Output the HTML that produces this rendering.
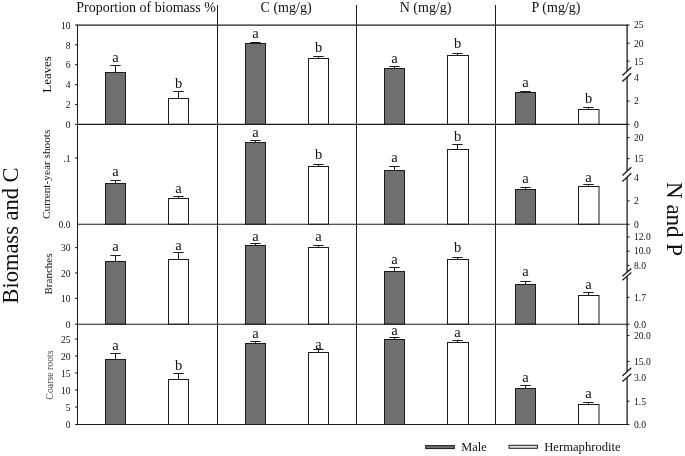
<!DOCTYPE html>
<html lang="en"><head><meta charset="utf-8"><title>Biomass and nutrient concentrations</title>
<style>html,body{margin:0;padding:0;background:#fff}svg{display:block;will-change:transform;filter:grayscale(1)}</style></head>
<body>
<svg width="685" height="456" viewBox="0 0 685 456" font-family="'Liberation Serif', serif" fill="#111">
<rect width="685" height="456" fill="#fff"/>
<line x1="115.50" y1="72.50" x2="115.50" y2="65.50" stroke="#1c1c1c" stroke-width="1"/>
<line x1="110.30" y1="65.50" x2="120.70" y2="65.50" stroke="#1c1c1c" stroke-width="1"/>
<rect x="105.50" y="72.50" width="20.00" height="51.90" fill="#6f6f6f" stroke="#1c1c1c" stroke-width="1"/>
<text x="115.50" y="61.60" font-size="14.5" text-anchor="middle">a</text>
<line x1="178.50" y1="98.50" x2="178.50" y2="91.50" stroke="#1c1c1c" stroke-width="1"/>
<line x1="173.30" y1="91.50" x2="183.70" y2="91.50" stroke="#1c1c1c" stroke-width="1"/>
<rect x="168.50" y="98.50" width="20.00" height="25.90" fill="#fff" stroke="#1c1c1c" stroke-width="1"/>
<text x="178.50" y="88.00" font-size="14.5" text-anchor="middle">b</text>
<line x1="255.50" y1="43.50" x2="255.50" y2="42.50" stroke="#1c1c1c" stroke-width="1"/>
<line x1="250.30" y1="42.50" x2="260.70" y2="42.50" stroke="#1c1c1c" stroke-width="1"/>
<rect x="245.50" y="43.50" width="20.00" height="80.90" fill="#6f6f6f" stroke="#1c1c1c" stroke-width="1"/>
<text x="255.50" y="37.80" font-size="14.5" text-anchor="middle">a</text>
<line x1="318.50" y1="58.50" x2="318.50" y2="56.50" stroke="#1c1c1c" stroke-width="1"/>
<line x1="313.30" y1="56.50" x2="323.70" y2="56.50" stroke="#1c1c1c" stroke-width="1"/>
<rect x="308.50" y="58.50" width="20.00" height="65.90" fill="#fff" stroke="#1c1c1c" stroke-width="1"/>
<text x="318.50" y="51.60" font-size="14.5" text-anchor="middle">b</text>
<line x1="394.50" y1="68.50" x2="394.50" y2="66.50" stroke="#1c1c1c" stroke-width="1"/>
<line x1="389.30" y1="66.50" x2="399.70" y2="66.50" stroke="#1c1c1c" stroke-width="1"/>
<rect x="384.50" y="68.50" width="20.00" height="55.90" fill="#6f6f6f" stroke="#1c1c1c" stroke-width="1"/>
<text x="394.50" y="63.00" font-size="14.5" text-anchor="middle">a</text>
<line x1="457.50" y1="55.50" x2="457.50" y2="53.50" stroke="#1c1c1c" stroke-width="1"/>
<line x1="452.30" y1="53.50" x2="462.70" y2="53.50" stroke="#1c1c1c" stroke-width="1"/>
<rect x="447.50" y="55.50" width="21.00" height="68.90" fill="#fff" stroke="#1c1c1c" stroke-width="1"/>
<text x="457.50" y="48.00" font-size="14.5" text-anchor="middle">b</text>
<line x1="525.50" y1="92.50" x2="525.50" y2="91.50" stroke="#1c1c1c" stroke-width="1"/>
<line x1="520.30" y1="91.50" x2="530.70" y2="91.50" stroke="#1c1c1c" stroke-width="1"/>
<rect x="515.50" y="92.50" width="20.00" height="31.90" fill="#6f6f6f" stroke="#1c1c1c" stroke-width="1"/>
<text x="525.50" y="86.70" font-size="14.5" text-anchor="middle">a</text>
<line x1="588.50" y1="109.50" x2="588.50" y2="107.50" stroke="#1c1c1c" stroke-width="1"/>
<line x1="583.30" y1="107.50" x2="593.70" y2="107.50" stroke="#1c1c1c" stroke-width="1"/>
<rect x="578.50" y="109.50" width="20.50" height="14.90" fill="#fff" stroke="#1c1c1c" stroke-width="1"/>
<text x="588.50" y="103.00" font-size="14.5" text-anchor="middle">b</text>
<line x1="115.50" y1="183.50" x2="115.50" y2="180.50" stroke="#1c1c1c" stroke-width="1"/>
<line x1="110.30" y1="180.50" x2="120.70" y2="180.50" stroke="#1c1c1c" stroke-width="1"/>
<rect x="105.50" y="183.50" width="20.00" height="40.80" fill="#6f6f6f" stroke="#1c1c1c" stroke-width="1"/>
<text x="115.50" y="176.25" font-size="14.5" text-anchor="middle">a</text>
<line x1="178.50" y1="198.50" x2="178.50" y2="196.50" stroke="#1c1c1c" stroke-width="1"/>
<line x1="173.30" y1="196.50" x2="183.70" y2="196.50" stroke="#1c1c1c" stroke-width="1"/>
<rect x="168.50" y="198.50" width="20.00" height="25.80" fill="#fff" stroke="#1c1c1c" stroke-width="1"/>
<text x="178.50" y="192.75" font-size="14.5" text-anchor="middle">a</text>
<line x1="255.50" y1="142.50" x2="255.50" y2="140.50" stroke="#1c1c1c" stroke-width="1"/>
<line x1="250.30" y1="140.50" x2="260.70" y2="140.50" stroke="#1c1c1c" stroke-width="1"/>
<rect x="245.50" y="142.50" width="20.00" height="81.80" fill="#6f6f6f" stroke="#1c1c1c" stroke-width="1"/>
<text x="255.50" y="137.00" font-size="14.5" text-anchor="middle">a</text>
<line x1="318.50" y1="166.50" x2="318.50" y2="164.50" stroke="#1c1c1c" stroke-width="1"/>
<line x1="313.30" y1="164.50" x2="323.70" y2="164.50" stroke="#1c1c1c" stroke-width="1"/>
<rect x="308.50" y="166.50" width="20.00" height="57.80" fill="#fff" stroke="#1c1c1c" stroke-width="1"/>
<text x="318.50" y="159.40" font-size="14.5" text-anchor="middle">b</text>
<line x1="394.50" y1="170.50" x2="394.50" y2="166.50" stroke="#1c1c1c" stroke-width="1"/>
<line x1="389.30" y1="166.50" x2="399.70" y2="166.50" stroke="#1c1c1c" stroke-width="1"/>
<rect x="384.50" y="170.50" width="20.00" height="53.80" fill="#6f6f6f" stroke="#1c1c1c" stroke-width="1"/>
<text x="394.50" y="161.75" font-size="14.5" text-anchor="middle">a</text>
<line x1="457.50" y1="149.50" x2="457.50" y2="144.50" stroke="#1c1c1c" stroke-width="1"/>
<line x1="452.30" y1="144.50" x2="462.70" y2="144.50" stroke="#1c1c1c" stroke-width="1"/>
<rect x="447.50" y="149.50" width="21.00" height="74.80" fill="#fff" stroke="#1c1c1c" stroke-width="1"/>
<text x="457.50" y="140.50" font-size="14.5" text-anchor="middle">b</text>
<line x1="525.50" y1="189.50" x2="525.50" y2="187.50" stroke="#1c1c1c" stroke-width="1"/>
<line x1="520.30" y1="187.50" x2="530.70" y2="187.50" stroke="#1c1c1c" stroke-width="1"/>
<rect x="515.50" y="189.50" width="20.00" height="34.80" fill="#6f6f6f" stroke="#1c1c1c" stroke-width="1"/>
<text x="525.50" y="183.25" font-size="14.5" text-anchor="middle">a</text>
<line x1="588.50" y1="186.50" x2="588.50" y2="184.50" stroke="#1c1c1c" stroke-width="1"/>
<line x1="583.30" y1="184.50" x2="593.70" y2="184.50" stroke="#1c1c1c" stroke-width="1"/>
<rect x="578.50" y="186.50" width="20.50" height="37.80" fill="#fff" stroke="#1c1c1c" stroke-width="1"/>
<text x="588.50" y="182.00" font-size="14.5" text-anchor="middle">a</text>
<line x1="115.50" y1="261.50" x2="115.50" y2="255.50" stroke="#1c1c1c" stroke-width="1"/>
<line x1="110.30" y1="255.50" x2="120.70" y2="255.50" stroke="#1c1c1c" stroke-width="1"/>
<rect x="105.50" y="261.50" width="20.00" height="62.70" fill="#6f6f6f" stroke="#1c1c1c" stroke-width="1"/>
<text x="115.50" y="251.25" font-size="14.5" text-anchor="middle">a</text>
<line x1="178.50" y1="259.50" x2="178.50" y2="252.50" stroke="#1c1c1c" stroke-width="1"/>
<line x1="173.30" y1="252.50" x2="183.70" y2="252.50" stroke="#1c1c1c" stroke-width="1"/>
<rect x="168.50" y="259.50" width="20.00" height="64.70" fill="#fff" stroke="#1c1c1c" stroke-width="1"/>
<text x="178.50" y="249.50" font-size="14.5" text-anchor="middle">a</text>
<line x1="255.50" y1="245.50" x2="255.50" y2="243.50" stroke="#1c1c1c" stroke-width="1"/>
<line x1="250.30" y1="243.50" x2="260.70" y2="243.50" stroke="#1c1c1c" stroke-width="1"/>
<rect x="245.50" y="245.50" width="20.00" height="78.70" fill="#6f6f6f" stroke="#1c1c1c" stroke-width="1"/>
<text x="255.50" y="240.50" font-size="14.5" text-anchor="middle">a</text>
<line x1="318.50" y1="247.50" x2="318.50" y2="245.50" stroke="#1c1c1c" stroke-width="1"/>
<line x1="313.30" y1="245.50" x2="323.70" y2="245.50" stroke="#1c1c1c" stroke-width="1"/>
<rect x="308.50" y="247.50" width="20.00" height="76.70" fill="#fff" stroke="#1c1c1c" stroke-width="1"/>
<text x="318.50" y="240.50" font-size="14.5" text-anchor="middle">a</text>
<line x1="394.50" y1="271.50" x2="394.50" y2="267.50" stroke="#1c1c1c" stroke-width="1"/>
<line x1="389.30" y1="267.50" x2="399.70" y2="267.50" stroke="#1c1c1c" stroke-width="1"/>
<rect x="384.50" y="271.50" width="20.00" height="52.70" fill="#6f6f6f" stroke="#1c1c1c" stroke-width="1"/>
<text x="394.50" y="263.75" font-size="14.5" text-anchor="middle">a</text>
<line x1="457.50" y1="259.50" x2="457.50" y2="257.50" stroke="#1c1c1c" stroke-width="1"/>
<line x1="452.30" y1="257.50" x2="462.70" y2="257.50" stroke="#1c1c1c" stroke-width="1"/>
<rect x="447.50" y="259.50" width="21.00" height="64.70" fill="#fff" stroke="#1c1c1c" stroke-width="1"/>
<text x="457.50" y="252.00" font-size="14.5" text-anchor="middle">b</text>
<line x1="525.50" y1="284.50" x2="525.50" y2="281.50" stroke="#1c1c1c" stroke-width="1"/>
<line x1="520.30" y1="281.50" x2="530.70" y2="281.50" stroke="#1c1c1c" stroke-width="1"/>
<rect x="515.50" y="284.50" width="20.00" height="39.70" fill="#6f6f6f" stroke="#1c1c1c" stroke-width="1"/>
<text x="525.50" y="276.00" font-size="14.5" text-anchor="middle">a</text>
<line x1="588.50" y1="295.50" x2="588.50" y2="292.50" stroke="#1c1c1c" stroke-width="1"/>
<line x1="583.30" y1="292.50" x2="593.70" y2="292.50" stroke="#1c1c1c" stroke-width="1"/>
<rect x="578.50" y="295.50" width="20.50" height="28.70" fill="#fff" stroke="#1c1c1c" stroke-width="1"/>
<text x="588.50" y="289.00" font-size="14.5" text-anchor="middle">a</text>
<line x1="115.50" y1="359.50" x2="115.50" y2="353.50" stroke="#1c1c1c" stroke-width="1"/>
<line x1="110.30" y1="353.50" x2="120.70" y2="353.50" stroke="#1c1c1c" stroke-width="1"/>
<rect x="105.50" y="359.50" width="20.00" height="65.00" fill="#6f6f6f" stroke="#1c1c1c" stroke-width="1"/>
<text x="115.50" y="349.60" font-size="14.5" text-anchor="middle">a</text>
<line x1="178.50" y1="379.50" x2="178.50" y2="373.50" stroke="#1c1c1c" stroke-width="1"/>
<line x1="173.30" y1="373.50" x2="183.70" y2="373.50" stroke="#1c1c1c" stroke-width="1"/>
<rect x="168.50" y="379.50" width="20.00" height="45.00" fill="#fff" stroke="#1c1c1c" stroke-width="1"/>
<text x="178.50" y="369.50" font-size="14.5" text-anchor="middle">b</text>
<line x1="255.50" y1="343.50" x2="255.50" y2="341.50" stroke="#1c1c1c" stroke-width="1"/>
<line x1="250.30" y1="341.50" x2="260.70" y2="341.50" stroke="#1c1c1c" stroke-width="1"/>
<rect x="245.50" y="343.50" width="20.00" height="81.00" fill="#6f6f6f" stroke="#1c1c1c" stroke-width="1"/>
<text x="255.50" y="338.00" font-size="14.5" text-anchor="middle">a</text>
<line x1="318.50" y1="352.50" x2="318.50" y2="349.50" stroke="#1c1c1c" stroke-width="1"/>
<line x1="313.30" y1="349.50" x2="323.70" y2="349.50" stroke="#1c1c1c" stroke-width="1"/>
<rect x="308.50" y="352.50" width="20.00" height="72.00" fill="#fff" stroke="#1c1c1c" stroke-width="1"/>
<text x="318.50" y="349.25" font-size="14.5" text-anchor="middle">a</text>
<line x1="394.50" y1="339.50" x2="394.50" y2="337.50" stroke="#1c1c1c" stroke-width="1"/>
<line x1="389.30" y1="337.50" x2="399.70" y2="337.50" stroke="#1c1c1c" stroke-width="1"/>
<rect x="384.50" y="339.50" width="20.00" height="85.00" fill="#6f6f6f" stroke="#1c1c1c" stroke-width="1"/>
<text x="394.50" y="335.00" font-size="14.5" text-anchor="middle">a</text>
<line x1="457.50" y1="342.50" x2="457.50" y2="340.50" stroke="#1c1c1c" stroke-width="1"/>
<line x1="452.30" y1="340.50" x2="462.70" y2="340.50" stroke="#1c1c1c" stroke-width="1"/>
<rect x="447.50" y="342.50" width="21.00" height="82.00" fill="#fff" stroke="#1c1c1c" stroke-width="1"/>
<text x="457.50" y="337.00" font-size="14.5" text-anchor="middle">a</text>
<line x1="525.50" y1="388.50" x2="525.50" y2="385.50" stroke="#1c1c1c" stroke-width="1"/>
<line x1="520.30" y1="385.50" x2="530.70" y2="385.50" stroke="#1c1c1c" stroke-width="1"/>
<rect x="515.50" y="388.50" width="20.00" height="36.00" fill="#6f6f6f" stroke="#1c1c1c" stroke-width="1"/>
<text x="525.50" y="381.50" font-size="14.5" text-anchor="middle">a</text>
<line x1="588.50" y1="404.50" x2="588.50" y2="402.50" stroke="#1c1c1c" stroke-width="1"/>
<line x1="583.30" y1="402.50" x2="593.70" y2="402.50" stroke="#1c1c1c" stroke-width="1"/>
<rect x="578.50" y="404.50" width="20.50" height="20.00" fill="#fff" stroke="#1c1c1c" stroke-width="1"/>
<text x="588.50" y="397.75" font-size="14.5" text-anchor="middle">a</text>
<line x1="77.0" y1="25.05" x2="627.7" y2="25.05" stroke="#1c1c1c" stroke-width="1.3"/>
<line x1="77.0" y1="124.4" x2="627.7" y2="124.4" stroke="#1c1c1c" stroke-width="1.1"/>
<line x1="77.0" y1="224.3" x2="627.7" y2="224.3" stroke="#1c1c1c" stroke-width="1.1"/>
<line x1="77.0" y1="324.2" x2="627.7" y2="324.2" stroke="#1c1c1c" stroke-width="1.1"/>
<line x1="77.0" y1="424.5" x2="627.7" y2="424.5" stroke="#1c1c1c" stroke-width="1.1"/>
<line x1="77.5" y1="25.05" x2="77.5" y2="424.5" stroke="#1c1c1c" stroke-width="1"/>
<line x1="217.5" y1="5" x2="217.5" y2="425.0" stroke="#1c1c1c" stroke-width="1"/>
<line x1="356.5" y1="5" x2="356.5" y2="425.0" stroke="#1c1c1c" stroke-width="1"/>
<line x1="495.5" y1="5" x2="495.5" y2="425.0" stroke="#1c1c1c" stroke-width="1"/>
<line x1="627.1" y1="25.05" x2="627.1" y2="71.07" stroke="#1c1c1c" stroke-width="1.3"/>
<line x1="627.1" y1="77.12" x2="627.1" y2="171.07" stroke="#1c1c1c" stroke-width="1.3"/>
<line x1="627.1" y1="177.12" x2="627.1" y2="272.13" stroke="#1c1c1c" stroke-width="1.3"/>
<line x1="627.1" y1="276.23" x2="627.1" y2="371.62" stroke="#1c1c1c" stroke-width="1.3"/>
<line x1="627.1" y1="377.43" x2="627.1" y2="424.50" stroke="#1c1c1c" stroke-width="1.3"/>
<line x1="622.4" y1="75.40" x2="631.3" y2="67.20" stroke="#1c1c1c" stroke-width="1.3"/>
<line x1="622.4" y1="81.50" x2="631.3" y2="73.20" stroke="#1c1c1c" stroke-width="1.3"/>
<line x1="622.4" y1="175.40" x2="631.3" y2="167.20" stroke="#1c1c1c" stroke-width="1.3"/>
<line x1="622.4" y1="181.50" x2="631.3" y2="173.20" stroke="#1c1c1c" stroke-width="1.3"/>
<line x1="622.4" y1="276.30" x2="631.3" y2="268.40" stroke="#1c1c1c" stroke-width="1.3"/>
<line x1="622.4" y1="280.30" x2="631.3" y2="272.60" stroke="#1c1c1c" stroke-width="1.3"/>
<line x1="622.4" y1="375.90" x2="631.3" y2="367.80" stroke="#1c1c1c" stroke-width="1.3"/>
<line x1="622.4" y1="381.60" x2="631.3" y2="373.70" stroke="#1c1c1c" stroke-width="1.3"/>
<line x1="75.1" y1="124.4" x2="77.5" y2="124.4" stroke="#1c1c1c" stroke-width="1.1"/>
<text x="70.5" y="128.10" font-size="9.6" text-anchor="end">0</text>
<line x1="75.1" y1="104.5" x2="77.5" y2="104.5" stroke="#1c1c1c" stroke-width="1.1"/>
<text x="70.5" y="108.20" font-size="9.6" text-anchor="end">2</text>
<line x1="75.1" y1="84.6" x2="77.5" y2="84.6" stroke="#1c1c1c" stroke-width="1.1"/>
<text x="70.5" y="88.30" font-size="9.6" text-anchor="end">4</text>
<line x1="75.1" y1="64.7" x2="77.5" y2="64.7" stroke="#1c1c1c" stroke-width="1.1"/>
<text x="70.5" y="68.40" font-size="9.6" text-anchor="end">6</text>
<line x1="75.1" y1="44.8" x2="77.5" y2="44.8" stroke="#1c1c1c" stroke-width="1.1"/>
<text x="70.5" y="48.50" font-size="9.6" text-anchor="end">8</text>
<line x1="75.1" y1="25.0" x2="77.5" y2="25.0" stroke="#1c1c1c" stroke-width="1.1"/>
<text x="70.5" y="28.70" font-size="9.6" text-anchor="end">10</text>
<line x1="627.1" y1="124.4" x2="629.5" y2="124.4" stroke="#1c1c1c" stroke-width="1.1"/>
<text x="634" y="127.70" font-size="9.6">0</text>
<line x1="627.1" y1="101.1" x2="629.5" y2="101.1" stroke="#1c1c1c" stroke-width="1.1"/>
<text x="634" y="104.40" font-size="9.6">2</text>
<text x="634" y="81.20" font-size="9.6">4</text>
<line x1="627.1" y1="61.2" x2="629.5" y2="61.2" stroke="#1c1c1c" stroke-width="1.1"/>
<text x="634" y="64.50" font-size="9.6">15</text>
<line x1="627.1" y1="43.2" x2="629.5" y2="43.2" stroke="#1c1c1c" stroke-width="1.1"/>
<text x="634" y="46.50" font-size="9.6">20</text>
<line x1="627.1" y1="25.0" x2="629.5" y2="25.0" stroke="#1c1c1c" stroke-width="1.1"/>
<text x="634" y="28.30" font-size="9.6">25</text>
<text x="70.5" y="228.00" font-size="9.6" text-anchor="end">0.0</text>
<line x1="75.1" y1="158.0" x2="77.5" y2="158.0" stroke="#1c1c1c" stroke-width="1.1"/>
<text x="70.5" y="161.70" font-size="9.6" text-anchor="end">.1</text>
<line x1="627.1" y1="224.3" x2="629.5" y2="224.3" stroke="#1c1c1c" stroke-width="1.1"/>
<text x="634" y="227.60" font-size="9.6">0</text>
<line x1="627.1" y1="200.9" x2="629.5" y2="200.9" stroke="#1c1c1c" stroke-width="1.1"/>
<text x="634" y="204.20" font-size="9.6">2</text>
<text x="634" y="180.90" font-size="9.6">4</text>
<line x1="627.1" y1="158.6" x2="629.5" y2="158.6" stroke="#1c1c1c" stroke-width="1.1"/>
<text x="634" y="161.90" font-size="9.6">15</text>
<line x1="627.1" y1="137.5" x2="629.5" y2="137.5" stroke="#1c1c1c" stroke-width="1.1"/>
<text x="634" y="140.80" font-size="9.6">20</text>
<line x1="75.1" y1="324.2" x2="77.5" y2="324.2" stroke="#1c1c1c" stroke-width="1.1"/>
<text x="70.5" y="327.90" font-size="9.6" text-anchor="end">0</text>
<line x1="75.1" y1="298.4" x2="77.5" y2="298.4" stroke="#1c1c1c" stroke-width="1.1"/>
<text x="70.5" y="302.10" font-size="9.6" text-anchor="end">10</text>
<line x1="75.1" y1="273.0" x2="77.5" y2="273.0" stroke="#1c1c1c" stroke-width="1.1"/>
<text x="70.5" y="276.70" font-size="9.6" text-anchor="end">20</text>
<line x1="75.1" y1="247.6" x2="77.5" y2="247.6" stroke="#1c1c1c" stroke-width="1.1"/>
<text x="70.5" y="251.30" font-size="9.6" text-anchor="end">30</text>
<line x1="627.1" y1="324.2" x2="629.5" y2="324.2" stroke="#1c1c1c" stroke-width="1.1"/>
<text x="634" y="327.50" font-size="9.6">0.0</text>
<line x1="627.1" y1="297.3" x2="629.5" y2="297.3" stroke="#1c1c1c" stroke-width="1.1"/>
<text x="634" y="300.60" font-size="9.6">1.7</text>
<line x1="627.1" y1="265.4" x2="629.5" y2="265.4" stroke="#1c1c1c" stroke-width="1.1"/>
<text x="634" y="268.70" font-size="9.6">8.0</text>
<line x1="627.1" y1="251.1" x2="629.5" y2="251.1" stroke="#1c1c1c" stroke-width="1.1"/>
<text x="634" y="254.40" font-size="9.6">10.0</text>
<line x1="627.1" y1="237.0" x2="629.5" y2="237.0" stroke="#1c1c1c" stroke-width="1.1"/>
<text x="634" y="240.30" font-size="9.6">12.0</text>
<line x1="75.1" y1="424.5" x2="77.5" y2="424.5" stroke="#1c1c1c" stroke-width="1.1"/>
<text x="70.5" y="428.20" font-size="9.6" text-anchor="end">0</text>
<line x1="75.1" y1="407.0" x2="77.5" y2="407.0" stroke="#1c1c1c" stroke-width="1.1"/>
<text x="70.5" y="410.70" font-size="9.6" text-anchor="end">5</text>
<line x1="75.1" y1="390.0" x2="77.5" y2="390.0" stroke="#1c1c1c" stroke-width="1.1"/>
<text x="70.5" y="393.70" font-size="9.6" text-anchor="end">10</text>
<line x1="75.1" y1="373.0" x2="77.5" y2="373.0" stroke="#1c1c1c" stroke-width="1.1"/>
<text x="70.5" y="376.70" font-size="9.6" text-anchor="end">15</text>
<line x1="75.1" y1="356.0" x2="77.5" y2="356.0" stroke="#1c1c1c" stroke-width="1.1"/>
<text x="70.5" y="359.70" font-size="9.6" text-anchor="end">20</text>
<line x1="75.1" y1="339.0" x2="77.5" y2="339.0" stroke="#1c1c1c" stroke-width="1.1"/>
<text x="70.5" y="342.70" font-size="9.6" text-anchor="end">25</text>
<line x1="627.1" y1="424.5" x2="629.5" y2="424.5" stroke="#1c1c1c" stroke-width="1.1"/>
<text x="634" y="427.80" font-size="9.6">0.0</text>
<line x1="627.1" y1="401.2" x2="629.5" y2="401.2" stroke="#1c1c1c" stroke-width="1.1"/>
<text x="634" y="404.50" font-size="9.6">1.5</text>
<text x="634" y="381.30" font-size="9.6">3.0</text>
<line x1="627.1" y1="361.4" x2="629.5" y2="361.4" stroke="#1c1c1c" stroke-width="1.1"/>
<text x="634" y="364.70" font-size="9.6">15.0</text>
<line x1="627.1" y1="335.5" x2="629.5" y2="335.5" stroke="#1c1c1c" stroke-width="1.1"/>
<text x="634" y="338.80" font-size="9.6">20.0</text>
<text x="146.0" y="11.9" font-size="14" text-anchor="middle">Proportion of biomass %</text>
<text x="286.1" y="11.9" font-size="14" text-anchor="middle">C (mg/g)</text>
<text x="425.6" y="11.9" font-size="14" text-anchor="middle">N (mg/g)</text>
<text x="556.0" y="11.9" font-size="14" text-anchor="middle">P (mg/g)</text>
<text transform="translate(51.0,74.4) rotate(-90)" font-size="12.9" text-anchor="middle" fill="#111">Leaves</text>
<text transform="translate(49.8,174.3) rotate(-90)" font-size="11.3" text-anchor="middle" fill="#111">Current-year shoots</text>
<text transform="translate(52.4,274.0) rotate(-90)" font-size="11" text-anchor="middle" fill="#111">Branches</text>
<text transform="translate(53.2,375.0) rotate(-90)" font-size="9.8" text-anchor="middle" fill="#4a4a4a">Coarse roots</text>
<text transform="translate(17.5,235.5) rotate(-90)" font-size="22.5" text-anchor="middle">Biomass and C</text>
<text transform="translate(666.9,219.1) rotate(90)" font-size="23" text-anchor="middle">N and P</text>
<rect x="425.7" y="445.6" width="28.6" height="3" fill="#6f6f6f" stroke="#1c1c1c" stroke-width="1"/>
<rect x="509.1" y="445.3" width="28.3" height="3" fill="#e2e2e2" stroke="#1c1c1c" stroke-width="1"/>
<text x="461.2" y="450.5" font-size="12.4">Male</text>
<text x="544.2" y="450.5" font-size="12.65">Hermaphrodite</text>
</svg>
</body></html>
